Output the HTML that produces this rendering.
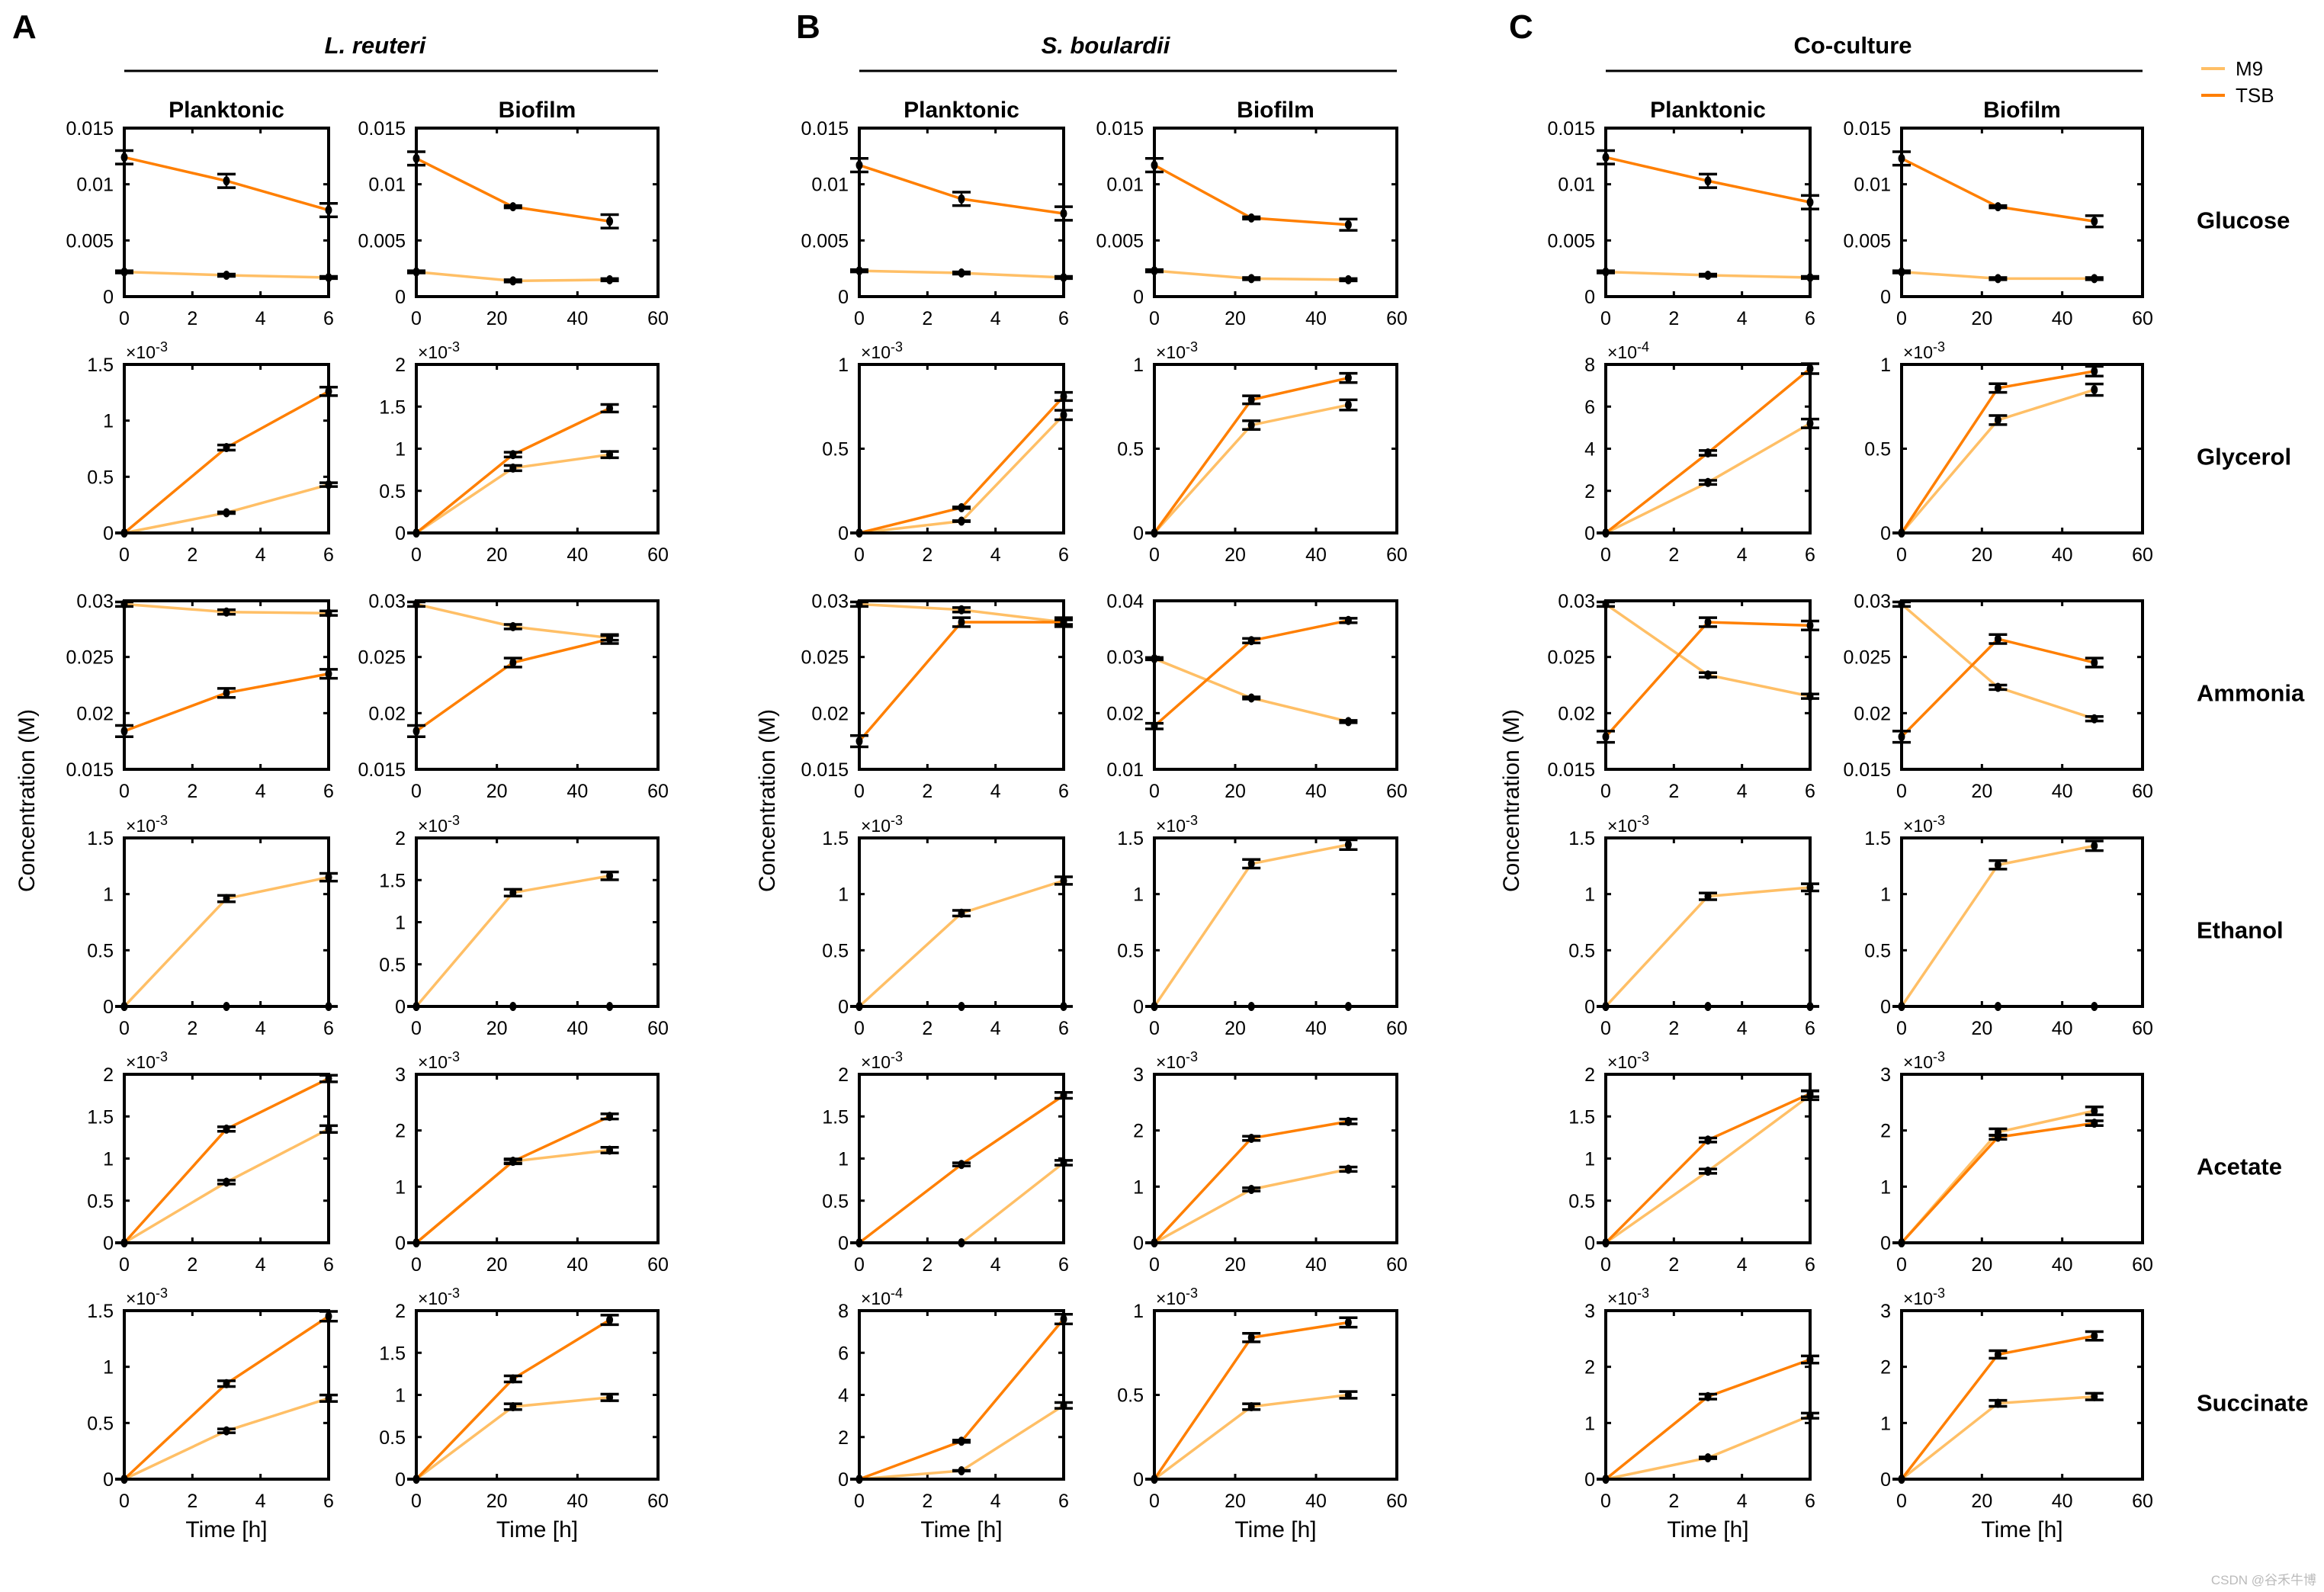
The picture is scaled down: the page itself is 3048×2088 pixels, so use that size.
<!DOCTYPE html>
<html><head><meta charset="utf-8">
<style>
html,body{margin:0;padding:0;background:#fff;}
svg{display:block;font-family:"Liberation Sans",Arial,sans-serif;}
</style></head>
<body>
<svg id="fig" width="3048" height="2088" viewBox="0 0 3048 2088" xmlns="http://www.w3.org/2000/svg">
</svg>
<script>
// ---- data (per row: 6 panels: A-plank, A-bio, B-plank, B-bio, C-plank, C-bio) ----
const rowNames = ["Glucose","Glycerol","Ammonia","Ethanol","Acetate","Succinate"];
const planktonicTimes = [0,3,6];
const biofilmTimes = [0,24,48];
const glucoseYmax = [0.015,0.015,0.015,0.015,0.015,0.015];
const glucoseM9 = [[0.0022,0.0019,0.0017],[0.0022,0.0014,0.0015],[0.0023,0.0021,0.0017],[0.0023,0.0016,0.0015],[0.0022,0.0019,0.0017],[0.0022,0.0016,0.0016]];
const glucoseTSB = [[0.0124,0.0103,0.0077],[0.0123,0.0080,0.0067],[0.0117,0.0087,0.0074],[0.0117,0.0070,0.0064],[0.0124,0.0103,0.0084],[0.0123,0.0080,0.0067]];
const glucoseErr = [[0.0006,0.0006,0.0006],[0.0006,0.0001,0.0006],[0.0006,0.0006,0.0006],[0.0006,0.0001,0.0005],[0.0006,0.0006,0.0006],[0.0006,0.0001,0.0005]];

const glycerolYmax = [1.5,2,1,1,8,1];
const glycerolExp = ["-3","-3","-3","-3","-4","-3"];
const glycerolM9 = [[0,0.18,0.43],[0,0.77,0.93],[0,0.07,0.70],[0,0.64,0.76],[0,2.4,5.2],[0,0.67,0.85]];
const glycerolTSB = [[0,0.76,1.26],[0,0.93,1.48],[0,0.15,0.81],[0,0.79,0.92],[0,3.8,7.8],[0,0.86,0.96]];

const ammoniaYmin = [0.015,0.015,0.015,0.01,0.015,0.015];
const ammoniaYmax = [0.03,0.03,0.03,0.04,0.03,0.03];
const ammoniaM9 = [[0.0297,0.0290,0.0289],[0.0297,0.0277,0.0267],[0.0297,0.0292,0.0281],[0.0297,0.0227,0.0185],[0.0297,0.0234,0.0215],[0.0297,0.0223,0.0195]];
const ammoniaTSB = [[0.0184,0.0218,0.0235],[0.0184,0.0245,0.0266],[0.0175,0.0281,0.0281],[0.0177,0.0329,0.0365],[0.0179,0.0281,0.0278],[0.0179,0.0266,0.0245]];

const ethanolYmax = [1.5,2,1.5,1.5,1.5,1.5];
const ethanolM9 = [[0,0.96,1.15],[0,1.35,1.55],[0,0.83,1.12],[0,1.27,1.44],[0,0.98,1.06],[0,1.26,1.43]];
const ethanolTSB = [[0,0,0],[0,0,0],[0,0,0],[0,0,0],[0,0,0],[0,0,0]];

const acetateYmax = [2,3,2,3,2,3];
const acetateM9 = [[0,0.72,1.35],[0,1.45,1.65],[0,0,0.95],[0,0.95,1.31],[0,0.85,1.75],[0,1.97,2.35]];
const acetateTSB = [[0,1.35,1.95],[0,1.45,2.25],[0,0.93,1.75],[0,1.86,2.16],[0,1.22,1.77],[0,1.88,2.13]];

const succinateYmax = [1.5,2,8,1,3,3];
const succinateExp = ["-3","-3","-4","-3","-3","-3"];
const succinateM9 = [[0,0.43,0.72],[0,0.86,0.97],[0,0.4,3.5],[0,0.43,0.50],[0,0.38,1.13],[0,1.35,1.47]];
const succinateTSB = [[0,0.85,1.45],[0,1.19,1.89],[0,1.8,7.6],[0,0.84,0.93],[0,1.47,2.13],[0,2.22,2.55]];

// ---- layout ----
const NS="http://www.w3.org/2000/svg";
const svg=document.getElementById('fig');
const colLeft=[163,546,1127,1514,2106,2494];
const colWidth=[268,317,268,318,268,316];
const rowTop=[168,478,788,1099,1409,1719];
const boxH=221;
const M9C="#FFBF66", TSBC="#FF7F00";

function mk(tag,attrs,parent){const e=document.createElementNS(NS,tag);for(const k in attrs)e.setAttribute(k,attrs[k]);(parent||svg).appendChild(e);return e;}
function txt(s,attrs,parent){const e=mk('text',attrs,parent);e.textContent=s;return e;}
function tickLabelsFor(ymin,ymax,step){const out=[];for(let v=ymin;v<=ymax+1e-9;v+=step)out.push(+v.toFixed(6));return out;}
function fmt(v){return String(+v.toFixed(4));}

function panel(r,c,cfg){
  const g=mk('g',{});
  
  
  const L=colLeft[c],W=colWidth[c],T=rowTop[r],B=T+boxH;
  const bio=c%2===1;
  const xmax=bio?60:6, xt=bio?[0,20,40,60]:[0,2,4,6];
  const times=bio?biofilmTimes:planktonicTimes;
  const sx=v=>L+v/xmax*W;
  const sy=v=>B-(v-cfg.ymin)/(cfg.ymax-cfg.ymin)*boxH;
  xt.forEach(v=>{
    const x=sx(v);
    const tk=mk('line',{x1:x,x2:x,y1:B,y2:B-7,stroke:'#000','stroke-width':3},g);
    
    
    mk('line',{x1:x,x2:x,y1:T,y2:T+7,stroke:'#000','stroke-width':3},g);
    const t=txt(String(v),{x:x,y:B+37,'font-size':25,'text-anchor':'middle',fill:'#000'},g);
    
    
  });
  cfg.ticks.forEach(v=>{
    const y=sy(v);
    mk('line',{x1:L,x2:L+7,y1:y,y2:y,stroke:'#000','stroke-width':3},g);
    mk('line',{x1:L+W,x2:L+W-7,y1:y,y2:y,stroke:'#000','stroke-width':3},g);
    const t=txt(fmt(v),{x:L-14,y:y+9,'font-size':25,'text-anchor':'end',fill:'#000'},g);
    
    
  });
  if(cfg.exp){
    const e=txt('',{x:L+2,y:T-8,'font-size':23,fill:'#000'},g);
    
    
    const a=document.createElementNS(NS,'tspan');a.textContent='\u00d710';e.appendChild(a);
    const b=document.createElementNS(NS,'tspan');b.setAttribute('dy','-9');b.setAttribute('font-size','18');b.textContent=cfg.exp;e.appendChild(b);
  }
  [['m9',cfg.m9,M9C],['tsb',cfg.tsb,TSBC]].forEach(([nm,vals,col])=>{
    const pts=vals.map((v,i)=>sx(times[i])+','+sy(v)).join(' ');
    const pl=mk('polyline',{points:pts,fill:'none',stroke:col,'stroke-width':3.5},g);
    
    
  });
  [cfg.m9,cfg.tsb].forEach((vals,si)=>{
    vals.forEach((v,i)=>{
      const x=sx(times[i]),y=sy(v);
      const e=(cfg.err&&cfg.err[si]?cfg.err[si][i]:0);
      const y1=sy(v+e),y2=sy(v-e);
      const eb=mk('g',{},g);
      
      
      mk('line',{x1:x,x2:x,y1:y1,y2:y2,stroke:'#000','stroke-width':2.5},eb);
      mk('line',{x1:x-12,x2:x+12,y1:y1,y2:y1,stroke:'#000','stroke-width':3.5},eb);
      mk('line',{x1:x-12,x2:x+12,y1:y2,y2:y2,stroke:'#000','stroke-width':3.5},eb);
      const d=mk('ellipse',{cx:x,cy:y,rx:4.5,ry:6,fill:'#000'},eb);
      
      
    });
  });
  const box=mk('rect',{x:L,y:T,width:W,height:boxH,fill:'none',stroke:'#000','stroke-width':4},g);
  
  
}

function errFrac(vals,f){return vals.map(v=>Math.abs(v)*f);}

for(let c=0;c<6;c++){
  panel(0,c,{ymin:0,ymax:glucoseYmax[c],ticks:[0,0.005,0.01,0.015],m9:glucoseM9[c],tsb:glucoseTSB[c],err:[[0.0001,0.0001,0.0001],glucoseErr[c]]});
  const gy=glycerolYmax[c]; const gstep=gy===8?2:0.5;
  panel(1,c,{ymin:0,ymax:gy,ticks:tickLabelsFor(0,gy,gstep),exp:glycerolExp[c],m9:glycerolM9[c],tsb:glycerolTSB[c],err:[errFrac(glycerolM9[c],0.04),errFrac(glycerolTSB[c],0.03)]});
  const amin=ammoniaYmin[c],amax=ammoniaYmax[c];
  panel(2,c,{ymin:amin,ymax:amax,ticks:tickLabelsFor(amin,amax,amax-amin>0.02?0.01:0.005),m9:ammoniaM9[c],tsb:ammoniaTSB[c],err:[[0.0002,0.0002,0.0002],[0.0005,0.0004,0.0004]]});
  const ey=ethanolYmax[c];
  panel(3,c,{ymin:0,ymax:ey,ticks:tickLabelsFor(0,ey,0.5),exp:'-3',m9:ethanolM9[c],tsb:ethanolTSB[c],err:[errFrac(ethanolM9[c],0.03),[0,0,0]]});
  const ay=acetateYmax[c];
  panel(4,c,{ymin:0,ymax:ay,ticks:tickLabelsFor(0,ay,ay===3?1:0.5),exp:'-3',m9:acetateM9[c],tsb:acetateTSB[c],err:[errFrac(acetateM9[c],0.03),errFrac(acetateTSB[c],0.02)]});
  const sy_=succinateYmax[c]; const sstep=sy_===8?2:(sy_===3?1:0.5);
  panel(5,c,{ymin:0,ymax:sy_,ticks:tickLabelsFor(0,sy_,sstep),exp:succinateExp[c],m9:succinateM9[c],tsb:succinateTSB[c],err:[errFrac(succinateM9[c],0.04),errFrac(succinateTSB[c],0.03)]});
}

// ---- static labels ----
const letters=[['A',16],['B',1044],['C',1979]];
letters.forEach(([s,x])=>{const t=txt(s,{x:x,y:50,'font-size':44,'font-weight':'bold',fill:'#000'});
  
  });
const groups=[['L. reuteri',163,863,true,492],['S. boulardii',1127,1832,true,1450],['Co-culture',2106,2810,false,2430]];
groups.forEach(([s,a,b,it,cx])=>{
  const t=txt(s,{x:cx,y:70,'font-size':31,'font-weight':'bold','font-style':it?'italic':'normal','text-anchor':'middle',fill:'#000'});
  
  
  const l=mk('line',{x1:a,x2:b,y1:93,y2:93,stroke:'#000','stroke-width':3});
  
  
});
for(let c=0;c<6;c++){
  const t=txt(c%2?'Biofilm':'Planktonic',{x:colLeft[c]+colWidth[c]/2,y:154,'font-size':30,'font-weight':'bold','text-anchor':'middle',fill:'#000'});
  
  
  const x=txt('Time [h]',{x:colLeft[c]+colWidth[c]/2,y:2016,'font-size':30,'text-anchor':'middle',fill:'#000'});
  
  
}
[35,1006,1982].forEach(x=>{
  const t=txt('Concentration (M)',{x:x,y:1050,'font-size':30,'text-anchor':'middle',fill:'#000',transform:'rotate(-90 '+x+' 1050)'});
  
  
  t.setAttribute('dy','10');
});
rowNames.forEach((n,r)=>{
  const t=txt(n,{x:2881,y:rowTop[r]+boxH/2+21,'font-size':31,'font-weight':'bold',fill:'#000'});
  
  
});
const lg=mk('g',{});


[['M9',M9C,90],['TSB',TSBC,125]].forEach(([s,col,y])=>{
  const e=mk('g',{},lg);
  
  
  mk('line',{x1:2887,x2:2918,y1:y,y2:y,stroke:col,'stroke-width':4},e);
  txt(s,{x:2932,y:y+9,'font-size':26,fill:'#000'},e);
});
const wm=txt('CSDN @谷禾牛博',{x:3038,y:2078,'font-size':17,'text-anchor':'end',fill:'#bbb','font-family':'"Liberation Sans","Noto Sans CJK SC",sans-serif'});


</script>
</body></html>
